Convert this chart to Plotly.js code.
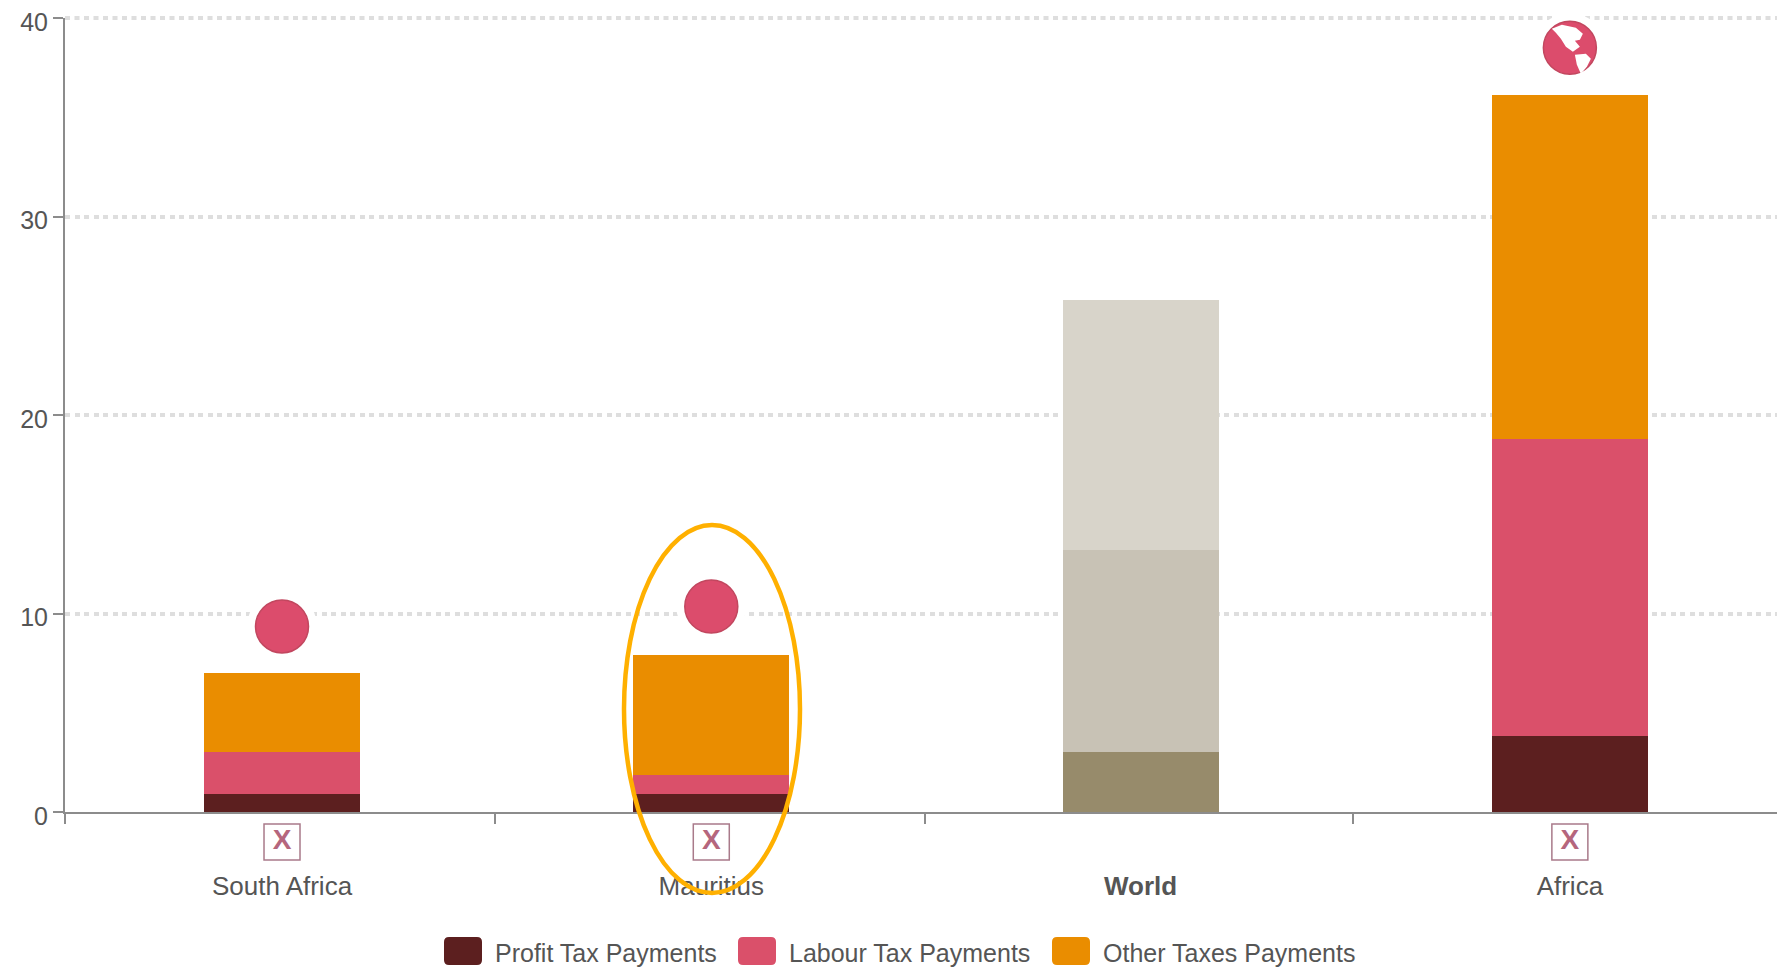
<!DOCTYPE html>
<html>
<head>
<meta charset="utf-8">
<script src="https://cdn.plot.ly/plotly-3.0.1.min.js"></script>
<style>html,body{margin:0;padding:0;background:#fff}#chart{width:1777px;height:968px}</style>
</head>
<body>
<div id="chart"></div>
<script>
// Total tax rate by component, in percent
const categories = ["South Africa", "Mauritius", "World", "Africa"];
const categoryLabels = ["South Africa", "Mauritius", "<b>World</b>", "Africa"];
const profitTax = [0.9, 0.9, 3.0, 3.85];
const labourTax = [2.1, 0.95, 10.2, 14.95];
const otherTax = [4.0, 6.05, 12.6, 17.3];

const profitColors = ["#5c1f1f", "#5c1f1f", "#978b6b", "#5c1f1f"];
const labourColors = ["#da506a", "#da506a", "#c8c2b5", "#da506a"];
const otherColors = ["#ea8d00", "#ea8d00", "#d8d4ca", "#ea8d00"];

const seriesNames = ["Profit Tax Payments", "Labour Tax Payments", "Other Taxes Payments"];
const legendColors = ["#5c1f1f", "#da506a", "#ea8d00"];

// Round badges above the bars and flag placeholders below the axis
const badgeIndex = [0, 1, 3];
const badgeLevel = [9.35, 10.35, 38.5];
const flagLevel = [0.5, 0.5, 0.5];

const xs = categories.map((_, i) => i);

function stack(name, y, colors) {
  return {type: "bar", name, x: xs, y, marker: {color: colors, line: {width: 0}},
          hoverinfo: "x+y+name", showlegend: false};
}

const traces = [
  stack(seriesNames[0], profitTax, profitColors),
  stack(seriesNames[1], labourTax, labourColors),
  stack(seriesNames[2], otherTax, otherColors),
  {type: "scatter", mode: "markers", x: badgeIndex, y: badgeLevel, cliponaxis: false, showlegend: false,
   hoverinfo: "skip", marker: {symbol: "circle", size: 70, color: "#ffffff"}},
  {type: "scatter", mode: "markers", x: badgeIndex, y: badgeLevel, cliponaxis: false, showlegend: false,
   hoverinfo: "skip", marker: {symbol: "circle", size: 53, color: "#dc4c6c", line: {width: 1.5, color: "#c2475f"}}},
  {type: "scatter", mode: "markers+text", x: badgeIndex, y: flagLevel, yaxis: "y2", cliponaxis: false,
   showlegend: false, hoverinfo: "skip", text: badgeIndex.map(() => "<b>X</b>"), textposition: "middle center",
   textfont: {family: "Liberation Sans, Arial, sans-serif", size: 28, color: "#b5667d"},
   marker: {symbol: "square-open", size: 36, color: "#a97a8a", line: {width: 1.5, color: "#a97a8a"}}}
];

// Pixel-sized continents over the Africa badge
const continents = [
  "M-18,19 L-8,23 L6,20 L13,14 L10,8 L5,7 L10,1 L3,-4 L-4,1 L-9,9 L-14,15 Z",
  "M5,-7 L16,-6 L21,-11 L17,-19 L11,-26 L7,-17 Z"
].map(path => ({
  type: "path", layer: "above", xsizemode: "pixel", ysizemode: "pixel", xref: "x", yref: "y",
  xanchor: 3, yanchor: 38.5, path, fillcolor: "#ffffff", line: {width: 0}
}));

const font = {family: "Liberation Sans, Arial, sans-serif", color: "#555555"};

// Plot frame in page pixels; the strip under the axis carries the flag placeholders
const plotWidth = 1712, plotHeight = 854, marginLeft = 65, marginTop = 18, flagStrip = 60;
const px = v => (v - marginLeft) / plotWidth;
const py = v => 1 - (v - marginTop) / plotHeight;

// Legend row, laid out by hand for the large rounded swatches
const swatchLeft = [444, 738, 1052];
const labelLeft = [495, 789, 1103];
const swatches = legendColors.map((fillcolor, i) => {
  const a = px(swatchLeft[i]), b = px(swatchLeft[i] + 38), c = py(937), d = py(965);
  const rx = 5 / plotWidth, ry = 5 / plotHeight;
  return {type: "path", xref: "paper", yref: "paper", fillcolor, line: {width: 0},
    path: `M${a + rx},${c} L${b - rx},${c} Q${b},${c} ${b},${c - ry} L${b},${d + ry} Q${b},${d} ${b - rx},${d} ` +
          `L${a + rx},${d} Q${a},${d} ${a},${d + ry} L${a},${c - ry} Q${a},${c} ${a + rx},${c} Z`};
});
const legendText = seriesNames.map((text, i) => ({
  text, xref: "paper", yref: "paper", x: px(labelLeft[i]), y: py(953), xanchor: "left", yanchor: "middle",
  showarrow: false, font: {...font, size: 25}, xshift: -2
}));

// Outline drawn around the Mauritius column
const highlight = {
  type: "circle", layer: "above", xref: "paper", yref: "paper",
  x0: px(624), x1: px(800), y0: py(893), y1: py(525),
  line: {color: "#ffb000", width: 4.5}, fillcolor: "rgba(0,0,0,0)"
};

const gridColor = "#dedede", gridWidth = 4, gridDash = "5px,4.5px";

// The gridline at the very top of the range
const topGrid = {
  type: "line", layer: "below", xref: "paper", yref: "paper", x0: 0, x1: 1, y0: 1, y1: 1,
  line: {color: gridColor, width: gridWidth, dash: gridDash}
};

const layout = {
  width: 1777, height: 968, paper_bgcolor: "#ffffff", plot_bgcolor: "#ffffff",
  margin: {l: marginLeft, r: 0, t: marginTop, b: 968 - marginTop - plotHeight, pad: 0},
  barmode: "stack", bargap: 0.637, showlegend: false, font,
  xaxis: {
    type: "linear", range: [-0.5055, 3.4825], tickmode: "array", tickvals: xs, ticktext: categoryLabels,
    ticks: "", showgrid: false, zeroline: false, showline: true, linecolor: "#8c8c8c", linewidth: 2,
    anchor: "y", ticklabelstandoff: 50, tickfont: {...font, size: 26}, fixedrange: true,
    minor: {tickmode: "array", tickvals: [-0.5055, 0.496, 1.498, 2.495], ticks: "outside", ticklen: 10,
            tickcolor: "#8c8c8c", tickwidth: 2, showgrid: false}
  },
  yaxis: {
    domain: [flagStrip / plotHeight, 1], anchor: "x",
    range: [0, 40], tickmode: "array", tickvals: [0, 10, 20, 30, 40], ticks: "outside", ticklen: 10,
    tickcolor: "#8c8c8c", tickwidth: 2, showline: true, linecolor: "#8c8c8c", linewidth: 2,
    zeroline: false, showgrid: true, gridcolor: gridColor, gridwidth: gridWidth, griddash: gridDash,
    tickfont: {...font, size: 25}, fixedrange: true, ticklabelstandoff: 0, ticklabelshift: 4
  },
  yaxis2: {domain: [0, flagStrip / plotHeight], anchor: "x", range: [0, 1], visible: false, fixedrange: true},
  shapes: [topGrid, ...swatches, highlight, ...continents],
  annotations: legendText
};

Plotly.newPlot("chart", traces, layout, {displayModeBar: false});
</script>
</body>
</html>
